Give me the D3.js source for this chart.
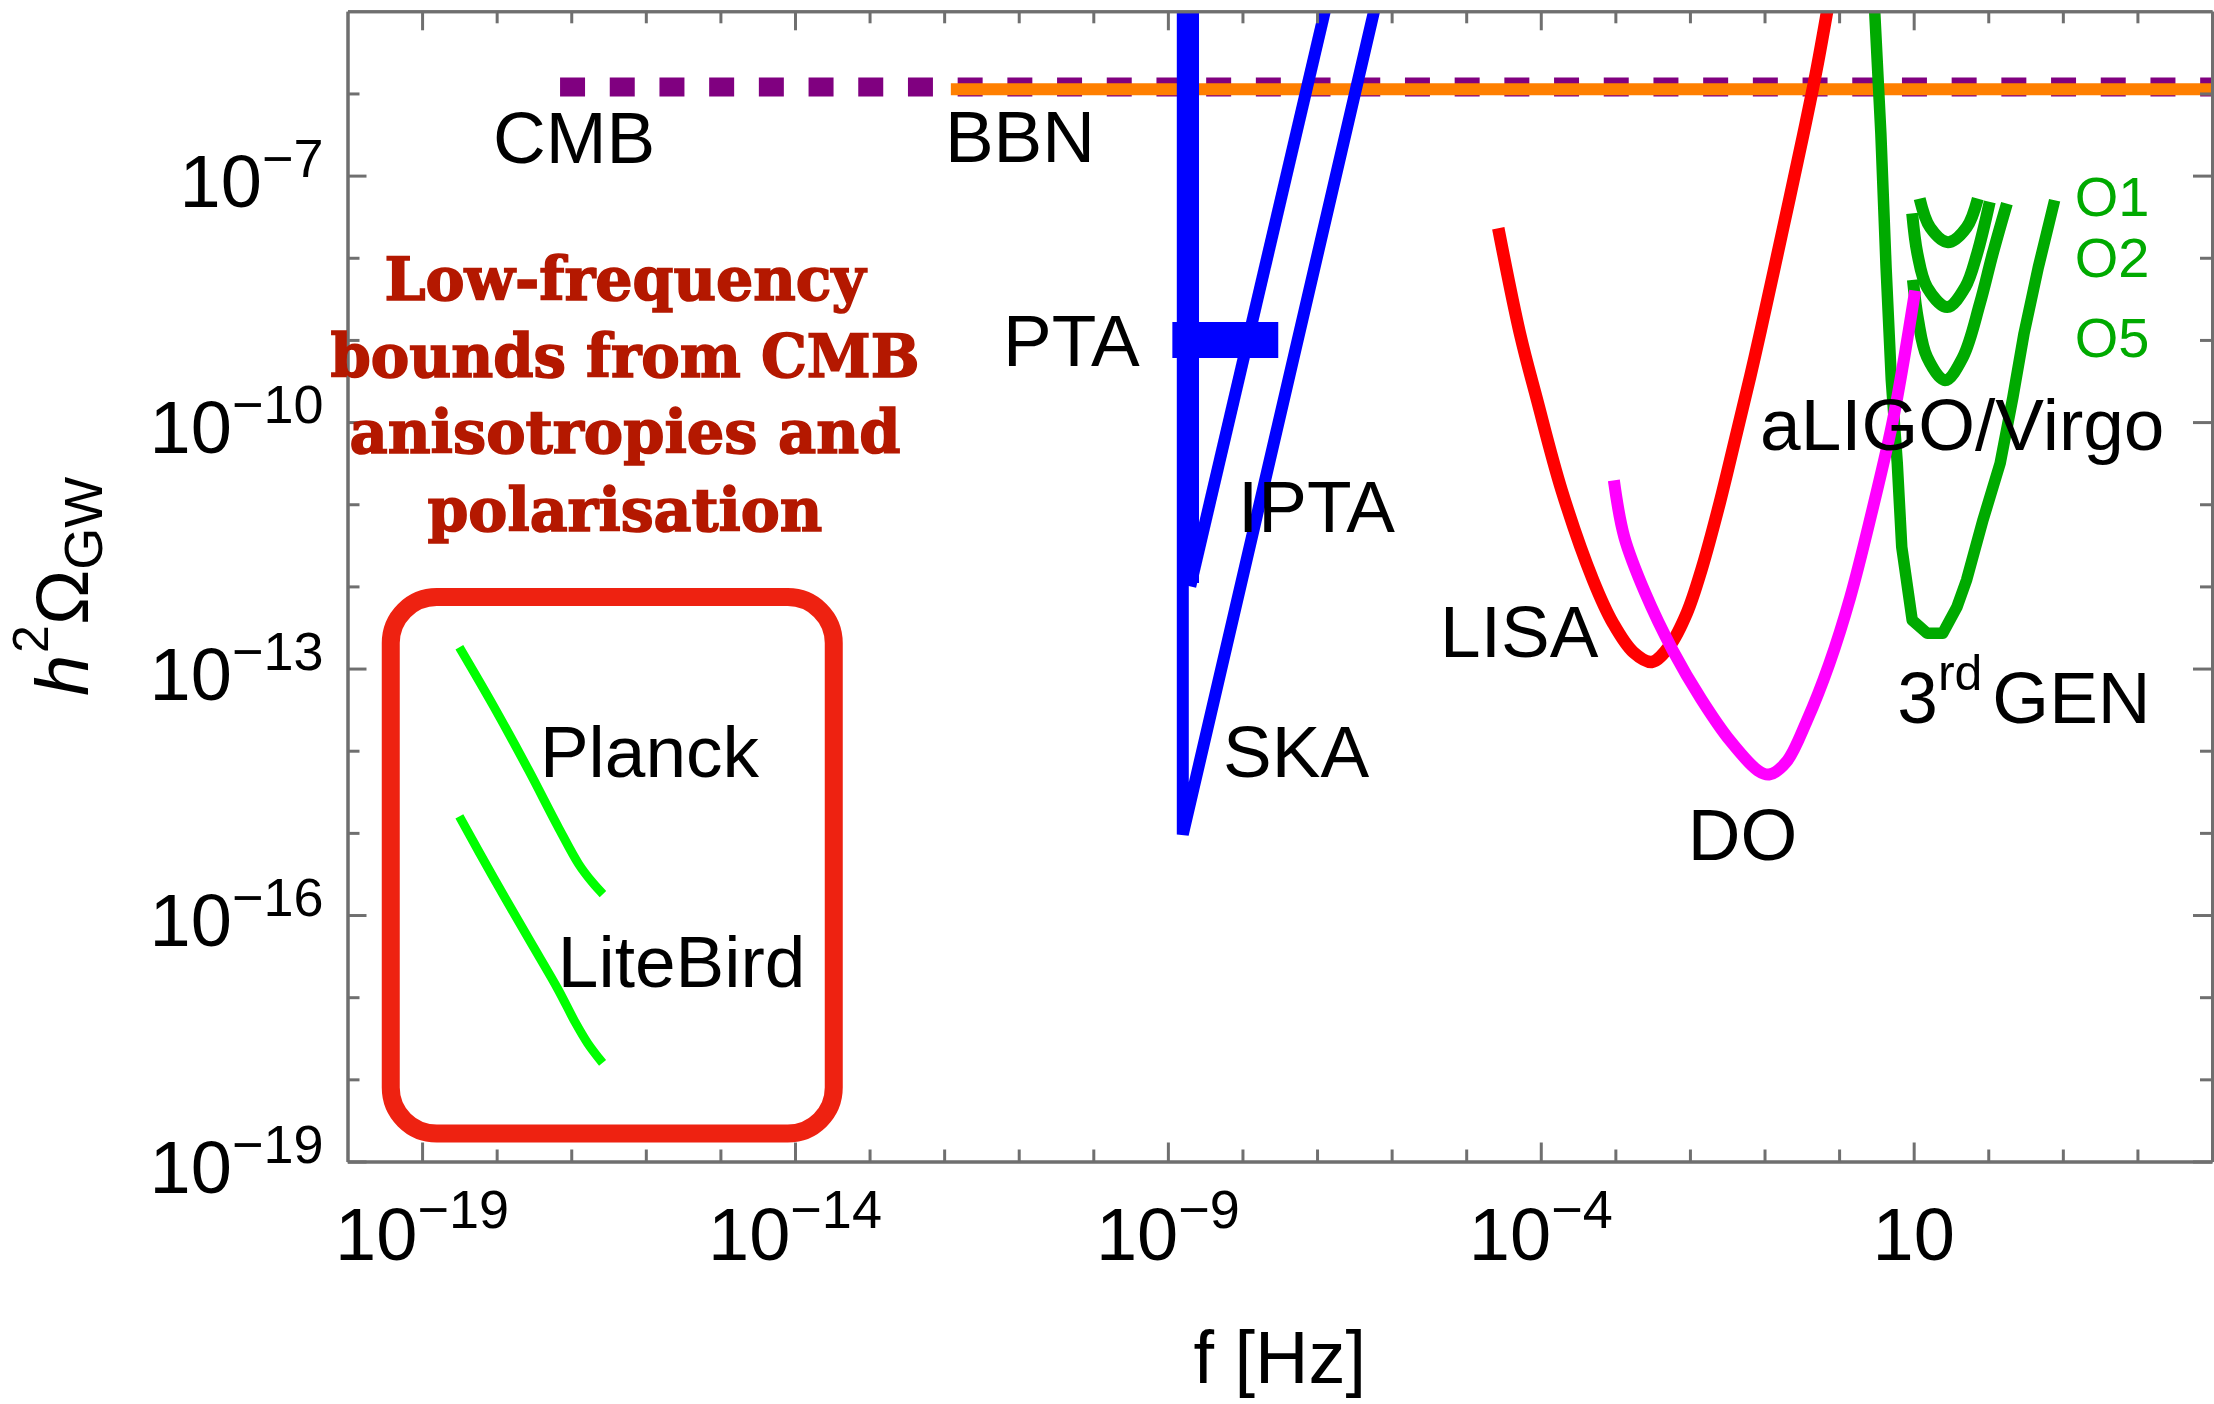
<!DOCTYPE html>
<html>
<head>
<meta charset="utf-8">
<title>GW sensitivity curves</title>
<script src="https://cdn.jsdelivr.net/npm/d3@7"></script>
<style>
  html, body { margin: 0; padding: 0; background: #fff; }
  svg { display: block; }
  text { font-family: "Liberation Sans", Arial, sans-serif; }
</style>
</head>
<body>
<svg id="chart" width="2214" height="1404"></svg>
<script>
"use strict";

// All values are log10: [log10 f (Hz), log10 h^2 Omega_GW]
const xTickExps = [-19, -14, -9, -4, 1];
const yTickExps = [-19, -16, -13, -10, -7];

const cmb = [[-17.15, -5.92], [5.3, -5.92]];
const bbn = [[-11.91, -5.95], [5.3, -5.95]];

const ptaBar = [[-8.73, -4.8], [-8.73, -11.96]];
const ptaPoint = [[-8.94, -9.0], [-7.52, -9.0]];
const ipta = [[-8.70, -12.0], [-6.87, -4.9]];
const ska = [[-8.80, -4.9], [-8.80, -15.02], [-6.21, -4.9]];

const lisa = [
    [-4.57, -7.64], [-4.28, -8.92], [-4.05, -9.73], [-3.72, -10.83], [-3.30, -11.92],
    [-3.03, -12.45], [-2.76, -12.80], [-2.51, -12.92], [-2.27, -12.72], [-2.04, -12.32],
    [-1.84, -11.78], [-1.60, -10.98], [-1.37, -10.12], [-1.19, -9.44], [-1.05, -8.88],
    [-0.77, -7.72], [-0.48, -6.50], [-0.30, -5.70], [-0.16, -5.00], [-0.12, -4.80]
];

const decigo = [
    [-3.02, -10.71], [-2.88, -11.40], [-2.60, -12.08], [-2.23, -12.78], [-1.85, -13.37],
    [-1.46, -13.88], [-1.09, -14.24], [-0.94, -14.29], [-0.71, -14.14], [-0.43, -13.63],
    [-0.135, -12.95], [0.15, -12.13], [0.43, -11.13], [0.71, -10.03], [0.88, -9.18],
    [1.02, -8.40]
];

const thirdGen = [
    [0.47, -4.87], [0.56, -6.49], [0.63, -8.12], [0.70, -9.49], [0.78, -10.50],
    [0.84, -11.52], [0.98, -12.41], [1.18, -12.57], [1.39, -12.57], [1.58, -12.25],
    [1.71, -11.92], [1.93, -11.19], [2.16, -10.50], [2.33, -9.70], [2.48, -8.92],
    [2.67, -8.12], [2.89, -7.30]
];

const o1 = [[1.08, -7.28], [1.22, -7.63], [1.46, -7.81], [1.71, -7.63], [1.86, -7.28]];
const o2 = [[0.98, -7.46], [1.05, -7.95], [1.18, -8.36], [1.45, -8.60], [1.69, -8.36], [1.85, -7.95], [2.02, -7.32]];
const o5 = [[0.99, -8.27], [1.06, -8.76], [1.18, -9.21], [1.42, -9.49], [1.66, -9.21], [1.89, -8.55], [2.06, -7.95], [2.25, -7.34]];

const planck = [
    [-18.50, -12.74], [-18.04, -13.46], [-17.57, -14.24], [-17.18, -14.92],
    [-16.90, -15.38], [-16.71, -15.61], [-16.575, -15.745]
];
const liteBird = [
    [-18.50, -14.80], [-18.04, -15.55], [-17.57, -16.29], [-17.18, -16.90],
    [-16.95, -17.30], [-16.78, -17.56], [-16.58, -17.80]
];

const noteLines = ["Low-frequency", "bounds from CMB", "anisotropies and", "polarisation"];
const observatoryNames = ["CMB", "BBN", "PTA", "IPTA", "SKA", "LISA", "DO", "aLIGO/Virgo", "Planck", "LiteBird"];
const runNames = ["O1", "O2", "O5"];

// layout
const W = 2214, H = 1404;
const svg = d3.select("#chart").attr("width", W).attr("height", H);

const x = d3.scaleLog().domain([1e-20, 1e5]).range([347.5, 2212]);
const y = d3.scaleLog().domain([1e-19, 1e-5]).range([1161.5, 11.3]);
const P = e => Math.pow(10, e);
const px = d => x(P(d[0]));
const py = d => y(P(d[1]));

const frameColor = "#6f6f6f";

svg.append("clipPath").attr("id", "plotClip")
    .append("rect")
    .attr("x", x.range()[0]).attr("y", y.range()[1])
    .attr("width", x.range()[1] - x.range()[0])
    .attr("height", y.range()[0] - y.range()[1]);

const plot = svg.append("g").attr("clip-path", "url(#plotClip)");

const straight = d3.line().x(px).y(py);
const smooth = d3.line().x(px).y(py).curve(d3.curveCatmullRom.alpha(0.5));

function curve(data, gen, color, width, extra) {
    const p = plot.append("path")
        .datum(data)
        .attr("d", gen)
        .attr("fill", "none")
        .attr("stroke", color)
        .attr("stroke-width", width)
        .attr("stroke-linejoin", "round");
    if (extra) extra(p);
    return p;
}

// horizontal bounds
curve(cmb, straight, "#800080", 19, p => p.attr("stroke-dasharray", "25,24.7"));
curve(bbn, straight, "#ff7f00", 12);

// CMB forecasts
curve(planck, smooth, "#00ff00", 9);
curve(liteBird, smooth, "#00ff00", 9);

// pulsar timing
curve(ptaBar, straight, "#0000ff", 22);
curve(ptaPoint, straight, "#0000ff", 36);
curve(ska, straight, "#0000ff", 12, p => p.attr("stroke-linejoin", "miter"));
curve(ipta, straight, "#0000ff", 12);

// space and ground
curve(lisa, smooth, "#ff0000", 12.5);
curve(thirdGen, straight, "#00aa00", 11.5);
curve(o5, smooth, "#00aa00", 12);
curve(o2, smooth, "#00aa00", 12);
curve(o1, smooth, "#00aa00", 12);
curve(decigo, smooth, "#ff00ff", 12);

// annotation box round the CMB forecasts
const box = [[-19.42, -12.13], [-13.48, -18.66]];
svg.append("rect")
    .attr("x", px(box[0])).attr("y", py(box[0]))
    .attr("width", px(box[1]) - px(box[0]))
    .attr("height", py(box[1]) - py(box[0]))
    .attr("rx", 46).attr("ry", 46)
    .attr("fill", "none")
    .attr("stroke", "#ee2211")
    .attr("stroke-width", 18);

// frame with inward ticks
const minorX = d3.range(-19, 5).filter(e => !xTickExps.includes(e));
const minorY = d3.range(-18, -5).filter(e => !yTickExps.includes(e));

function frameAxis(axisFn, scale, exps, size, transform) {
    const g = svg.append("g")
        .attr("transform", transform)
        .call(axisFn(scale).tickValues(exps.map(P)).tickSize(size).tickSizeOuter(0).tickFormat(""));
    g.selectAll("path, line").attr("stroke", frameColor).attr("stroke-width", 3);
}

const x0 = x.range()[0], x1 = x.range()[1];
const y0 = y.range()[0], y1 = y.range()[1];

frameAxis(d3.axisBottom, x, xTickExps, -19, `translate(0,${y0})`);
frameAxis(d3.axisBottom, x, minorX, -12, `translate(0,${y0})`);
frameAxis(d3.axisTop, x, xTickExps, -19, `translate(0,${y1})`);
frameAxis(d3.axisTop, x, minorX, -12, `translate(0,${y1})`);
frameAxis(d3.axisLeft, y, yTickExps, -19, `translate(${x0},0)`);
frameAxis(d3.axisLeft, y, minorY, -12, `translate(${x0},0)`);
frameAxis(d3.axisRight, y, yTickExps, -19, `translate(${x1},0)`);
frameAxis(d3.axisRight, y, minorY, -12, `translate(${x1},0)`);

// tick labels
svg.append("g").selectAll("text")
    .data(xTickExps)
    .join("text")
    .attr("x", e => x(P(e)))
    .attr("y", y0 + 98.5)
    .attr("text-anchor", "middle")
    .attr("font-size", 74)
    .each(function (e) {
        const t = d3.select(this);
        t.append("tspan").text("10");
        if (e !== 1) t.append("tspan").attr("dy", -32).attr("font-size", 54).text("\u2212" + Math.abs(e));
    });

svg.append("g").selectAll("text")
    .data(yTickExps)
    .join("text")
    .attr("x", x0 - 24)
    .attr("y", e => y(P(e)) + 31)
    .attr("text-anchor", "end")
    .attr("font-size", 74)
    .each(function (e) {
        const t = d3.select(this);
        t.append("tspan").text("10");
        t.append("tspan").attr("dy", -30).attr("font-size", 54).text("\u2212" + Math.abs(e));
    });

// axis titles
svg.append("text")
    .attr("x", (x0 + x1) / 2)
    .attr("y", 1383)
    .attr("text-anchor", "middle")
    .attr("font-size", 74)
    .text("f [Hz]");

const yTitle = svg.append("text")
    .attr("transform", `translate(88,${(y0 + y1) / 2}) rotate(-90)`)
    .attr("text-anchor", "middle")
    .attr("font-size", 74);
yTitle.append("tspan").attr("font-style", "italic").text("h");
yTitle.append("tspan").attr("font-size", 50).attr("dy", -40).attr("dx", 2).text("2");
yTitle.append("tspan").attr("dy", 40).text("\u03a9");
yTitle.append("tspan").attr("font-size", 54).attr("dy", 14).text("GW");

// curve labels, anchored in data coordinates
const labelAnchors = [
    [-18.05, -6.85], [-11.99, -6.84], [-11.21, -9.32], [-8.06, -11.34], [-8.26, -14.32],
    [-5.35, -12.86], [-2.03, -15.33], [-1.06, -10.34], [-17.42, -14.32], [-17.18, -16.88]
];
const labelLayer = svg.append("g");
labelLayer.selectAll("text.name")
    .data(observatoryNames)
    .join("text")
    .attr("class", "name")
    .attr("x", (d, i) => px(labelAnchors[i]))
    .attr("y", (d, i) => py(labelAnchors[i]))
    .attr("font-size", 73)
    .attr("fill", "#000")
    .text(d => d);

const genLabel = labelLayer.append("text")
    .attr("x", px([0.78, -13.66]))
    .attr("y", py([0.78, -13.66]))
    .attr("font-size", 73);
genLabel.append("tspan").text("3");
genLabel.append("tspan").attr("font-size", 50).attr("dy", -33).text("rd");
genLabel.append("tspan").attr("dy", 33).attr("dx", 10).text("GEN");

// run labels beside the aLIGO/Virgo curves
const runAnchors = [[3.16, -7.49], [3.16, -8.23], [3.16, -9.21]];
labelLayer.selectAll("text.run")
    .data(runNames)
    .join("text")
    .attr("class", "run")
    .attr("x", (d, i) => px(runAnchors[i]))
    .attr("y", (d, i) => py(runAnchors[i]))
    .attr("font-size", 56)
    .attr("fill", "#00aa00")
    .text(d => d);

// note in slab serif
const noteWidths = [481, 589, 551, 395];
const noteBase = [[-16.28, -8.52], [-16.28, -9.45], [-16.28, -10.38], [-16.28, -11.32]];
labelLayer.selectAll("text.note")
    .data(noteLines)
    .join("text")
    .attr("class", "note")
    .attr("x", (d, i) => px(noteBase[i]))
    .attr("y", (d, i) => py(noteBase[i]))
    .attr("text-anchor", "middle")
    .attr("textLength", (d, i) => noteWidths[i])
    .attr("lengthAdjust", "spacingAndGlyphs")
    .style("font-family", "'DejaVu Serif', 'Liberation Serif', serif")
    .attr("font-weight", "bold")
    .attr("font-size", 60)
    .attr("fill", "#b41800")
    .attr("stroke", "#b41800")
    .attr("stroke-width", 1.6)
    .text(d => d);
</script>
</body>
</html>
